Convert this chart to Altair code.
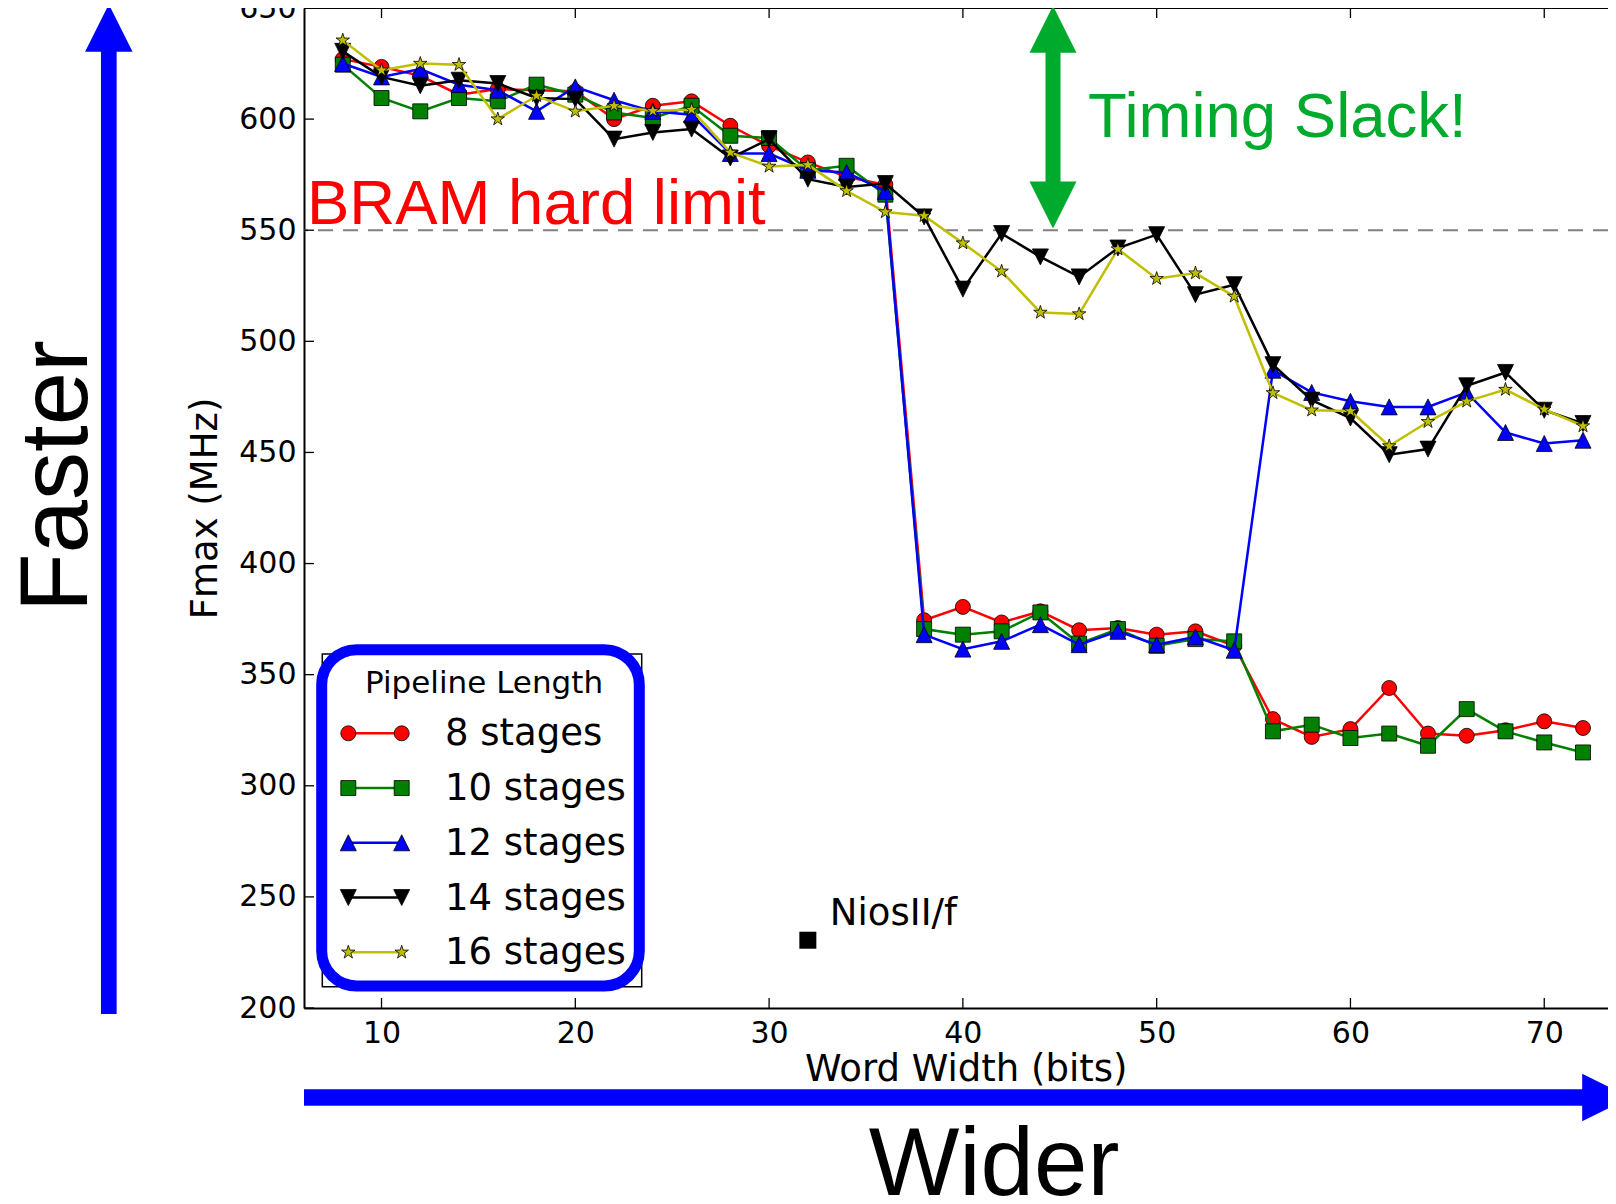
import altair as alt
import pandas as pd

# ---------------- data ----------------
word_width = [8, 10, 12, 14, 16, 18, 20, 22, 24, 26, 28, 30, 32, 34, 36, 38, 40,
              42, 44, 46, 48, 50, 52, 54, 56, 58, 60, 62, 64, 66, 68, 70, 72]

fmax_8 = [627, 623.5, 619.5, 611, 613.5, 613, 612.5, 600, 606, 608, 597, 588, 580.5,
          574, 570.5, 374.5, 380.5, 373.5, 378.5, 370, 371, 368, 369.5, 363, 330,
          322, 325.5, 344, 323.5, 322.5, 325, 329, 326]
fmax_10 = [624.5, 609.5, 603.5, 609.5, 608, 615.5, 611, 603, 600.5, 606, 592.5, 591.5,
           577, 579, 566, 370.5, 368, 369.5, 378, 364, 370.5, 363, 366, 365, 324.5,
           327.5, 321.5, 323.5, 318, 334.5, 324.5, 319.5, 315]
fmax_12 = [625, 619, 622.5, 615.5, 613, 603.5, 614.5, 608.5, 603.5, 602, 584.5, 584.5,
           577, 576, 567.5, 368, 361.5, 365, 372.5, 363.5, 369.5, 363.5, 367, 361, 487,
           477, 473, 470.5, 470.5, 477, 459, 454, 455.5]
fmax_14 = [630.5, 619, 615, 617.5, 616, 609.5, 609, 591, 594, 595.5, 582.5, 591, 573,
           569.5, 571, 556, 523.5, 548.5, 538, 529, 542, 548, 521, 525.5, 489.5, 473.5,
           465.5, 449, 451.5, 480, 486, 469, 463]
fmax_16 = [635.5, 622, 625, 624.5, 600, 610.5, 603.5, 606, 603.7, 604.3, 585, 578.7,
           579.4, 567.7, 558.2, 556.5, 544.2, 531.5, 513, 512.3, 541.5, 528.2, 530.7,
           520.2, 476.8, 469, 468.6, 452.9, 463.8, 473, 478.3, 469.4, 461.9]

series_values = [fmax_8, fmax_10, fmax_12, fmax_14, fmax_16]
series_names = ["8 stages", "10 stages", "12 stages", "14 stages", "16 stages"]
legend_title = ["Pipeline Length"]

nios_x = [32]
nios_fmax = [230.5]
nios_label = ["NiosII/f"]

bram_limit = [550]
x_ticks = [10, 20, 30, 40, 50, 60, 70]
y_ticks = [200, 250, 300, 350, 400, 450, 500, 550, 600, 650]

bram_text = ["BRAM hard limit"]
slack_text = ["Timing Slack!"]
faster_text = ["Faster"]
wider_text = ["Wider"]
x_title = "Word Width (bits)"
y_title = "Fmax (MHz)"

# ---------------- styles ----------------
STAR = ("M0,-1L-0.2245,-0.309L-0.951,-0.309L-0.363,0.118L-0.588,0.809L0,0.382"
        "L0.588,0.809L0.363,0.118L0.951,-0.309L0.2245,-0.309Z")
TRI_UP = "M0,-1L1,1L-1,1Z"
TRI_DOWN = "M0,1L1,-1L-1,-1Z"
TRI_RIGHT = "M1,0L-1,-1L-1,1Z"

line_colors = ["#ff0000", "#008000", "#0000ff", "#000000", "#bfbf00"]
shapes = ["circle", "square", TRI_UP, TRI_DOWN, STAR]
marker_sizes = [225, 225, 256, 256, 200]

W, H = 1304, 1000
BLUE = "#0000ff"
GREEN = "#00aa2d"

x_scale = alt.Scale(domain=[6, 73.29], nice=False, zero=False)
y_scale = alt.Scale(domain=[200, 650], nice=False, zero=False)

x_axis = alt.Axis(values=x_ticks, title=x_title, ticks=False, grid=False,
                  labelPadding=10, labelFontSize=30, labelFont="DejaVu Sans",
                  labelColor="black", titleFont="DejaVu Sans", titleFontSize=37,
                  titleFontWeight="normal", titleColor="black", domainColor="black",
                  domainWidth=2, titleX=661.7, titleY=72, titleBaseline="alphabetic",
                  titleAlign="center", labelFlush=False, labelOverlap=False, format="d")
y_axis = alt.Axis(values=y_ticks, title=y_title, ticks=False, grid=False,
                  labelPadding=8, labelFontSize=30, labelFont="DejaVu Sans",
                  labelColor="black", titleFont="DejaVu Sans", titleFontSize=37,
                  titleFontWeight="normal", titleColor="black", domainColor="black",
                  domainWidth=2, titleX=-88, titleY=500, titleAngle=270,
                  titleBaseline="alphabetic", titleAlign="center", labelFlush=False,
                  labelOverlap=False, format="d")


def X(field):
    return alt.X(field, type="quantitative", scale=x_scale, axis=x_axis)


def Y(field):
    return alt.Y(field, type="quantitative", scale=y_scale, axis=y_axis)


one = pd.DataFrame({"d": [0]})
layers = []

# dashed BRAM limit line
layers.append(alt.Chart(pd.DataFrame({"v": bram_limit})).mark_rule(
    color="#808080", strokeWidth=2, strokeDash=[15, 10]).encode(y=Y("v")))

# series (line + markers, drawn in order)
for i, vals in enumerate(series_values):
    df = pd.DataFrame({"x": word_width, "v": vals})
    layers.append(alt.Chart(df).mark_line(color=line_colors[i], strokeWidth=2.5)
                  .encode(x=X("x"), y=Y("v")))
    layers.append(alt.Chart(df).mark_point(
        shape=shapes[i], size=marker_sizes[i], filled=True, fill=line_colors[i],
        color=line_colors[i], stroke="black", strokeWidth=0.8, opacity=1)
        .encode(x=X("x"), y=Y("v")))

# NiosII/f point
nios_df = pd.DataFrame({"x": nios_x, "v": nios_fmax, "t": nios_label})
layers.append(alt.Chart(nios_df).mark_point(shape="square", size=289, filled=True,
                                            fill="black", color="black", opacity=1,
                                            strokeWidth=0)
              .encode(x=X("x"), y=Y("v")))
layers.append(alt.Chart(nios_df).mark_text(align="left", baseline="alphabetic", dx=22,
                                           dy=-15, fontSize=37, font="DejaVu Sans",
                                           color="black")
              .encode(x=X("x"), y=Y("v"), text="t:N"))

# inward ticks and top border
xt = pd.DataFrame({"t": x_ticks})
yt = pd.DataFrame({"t": y_ticks})
layers.append(alt.Chart(xt).mark_rule(color="black", strokeWidth=1.3)
              .encode(x=X("t"), y=alt.value(H - 10), y2=alt.value(H)))
layers.append(alt.Chart(xt).mark_rule(color="black", strokeWidth=1.3)
              .encode(x=X("t"), y=alt.value(0), y2=alt.value(10)))
layers.append(alt.Chart(yt).mark_rule(color="black", strokeWidth=1.3)
              .encode(y=Y("t"), x=alt.value(0), x2=alt.value(10)))
layers.append(alt.Chart(one).mark_rule(color="black", strokeWidth=2)
              .encode(x=alt.value(0), x2=alt.value(W), y=alt.value(0)))

# legend box (matplotlib style)
layers.append(alt.Chart(one).mark_rect(fill="white", stroke="black", strokeWidth=1.5)
              .encode(x=alt.value(18.3), x2=alt.value(337.7), y=alt.value(646),
                      y2=alt.value(978.7)))
layers.append(alt.Chart(pd.DataFrame({"t": legend_title})).mark_text(
    align="center", baseline="alphabetic", fontSize=31, font="DejaVu Sans", color="black")
    .encode(x=alt.value(180), y=alt.value(685), text="t:N"))
for i, name in enumerate(series_names):
    ly = 725.3 + i * 54.75
    layers.append(alt.Chart(one).mark_rule(color=line_colors[i], strokeWidth=2.5)
                  .encode(x=alt.value(44.3), x2=alt.value(97.7), y=alt.value(ly)))
    for lx in (44.3, 97.7):
        layers.append(alt.Chart(one).mark_point(
            shape=shapes[i], size=marker_sizes[i], filled=True, fill=line_colors[i],
            color=line_colors[i], stroke="black", strokeWidth=0.8, opacity=1)
            .encode(x=alt.value(lx), y=alt.value(ly)))
    layers.append(alt.Chart(pd.DataFrame({"t": [name]})).mark_text(
        align="left", baseline="middle", fontSize=37, font="DejaVu Sans", color="black")
        .encode(x=alt.value(141), y=alt.value(ly + 1), text="t:N"))

# blue rounded highlight around legend
layers.append(alt.Chart(one).mark_rect(fill="white", fillOpacity=0, stroke=BLUE,
                                       strokeWidth=11, cornerRadius=35)
              .encode(x=alt.value(17.7), x2=alt.value(335.3), y=alt.value(641.7),
                      y2=alt.value(978)))

# annotations
layers.append(alt.Chart(pd.DataFrame({"t": bram_text})).mark_text(
    align="left", baseline="alphabetic", fontSize=63.5, font="Liberation Sans",
    color="#ff0000").encode(x=alt.value(3), y=alt.value(216), text="t:N"))
layers.append(alt.Chart(pd.DataFrame({"t": slack_text})).mark_text(
    align="left", baseline="alphabetic", fontSize=63.5, font="Liberation Sans",
    color=GREEN).encode(x=alt.value(784), y=alt.value(129.3), text="t:N"))

# green double arrow
layers.append(alt.Chart(one).mark_rule(color=GREEN, strokeWidth=15)
              .encode(x=alt.value(749), y=alt.value(44), y2=alt.value(174.5)))
layers.append(alt.Chart(one).mark_point(shape=TRI_UP, size=2209, filled=True, fill=GREEN,
                                        color=GREEN, strokeWidth=0, opacity=1)
              .encode(x=alt.value(749), y=alt.value(21.3)))
layers.append(alt.Chart(one).mark_point(shape=TRI_DOWN, size=2209, filled=True, fill=GREEN,
                                        color=GREEN, strokeWidth=0, opacity=1)
              .encode(x=alt.value(749), y=alt.value(197)))

# blue vertical arrow + "Faster"
layers.append(alt.Chart(one).mark_rule(color=BLUE, strokeWidth=15.7)
              .encode(x=alt.value(-195.2), y=alt.value(42), y2=alt.value(1006)))
layers.append(alt.Chart(one).mark_point(shape=TRI_UP, size=2256, filled=True, fill=BLUE,
                                        color=BLUE, strokeWidth=0, opacity=1)
              .encode(x=alt.value(-195.2), y=alt.value(20)))
layers.append(alt.Chart(pd.DataFrame({"t": faster_text})).mark_text(
    align="center", baseline="alphabetic", angle=270, fontSize=96,
    font="Liberation Sans", color="black")
    .encode(x=alt.value(-217), y=alt.value(468), text="t:N"))

# blue horizontal arrow (head runs off the right edge, as in the reference) + "Wider"
layers.append(alt.Chart(one).mark_rule(color=BLUE, strokeWidth=16.3)
              .encode(x=alt.value(0), x2=alt.value(1282), y=alt.value(1089.5)))
layers.append(alt.Chart(one).mark_point(shape=TRI_RIGHT, size=2266, filled=True, fill=BLUE,
                                        color=BLUE, strokeWidth=0, opacity=1)
              .encode(x=alt.value(1302), y=alt.value(1089.5)))
layers.append(alt.Chart(pd.DataFrame({"t": wider_text})).mark_text(
    align="center", baseline="alphabetic", fontSize=96, font="Liberation Sans",
    color="black").encode(x=alt.value(690), y=alt.value(1187), text="t:N"))

chart = alt.layer(*layers).properties(
    width=W, height=H,
    padding={"left": 296, "top": 0, "right": 0, "bottom": 188},
    autosize=alt.AutoSizeParams(type="none"),
    background="white",
).configure_view(stroke=None)

chart.save("out.html", embed_options={"renderer": "svg", "actions": False})
